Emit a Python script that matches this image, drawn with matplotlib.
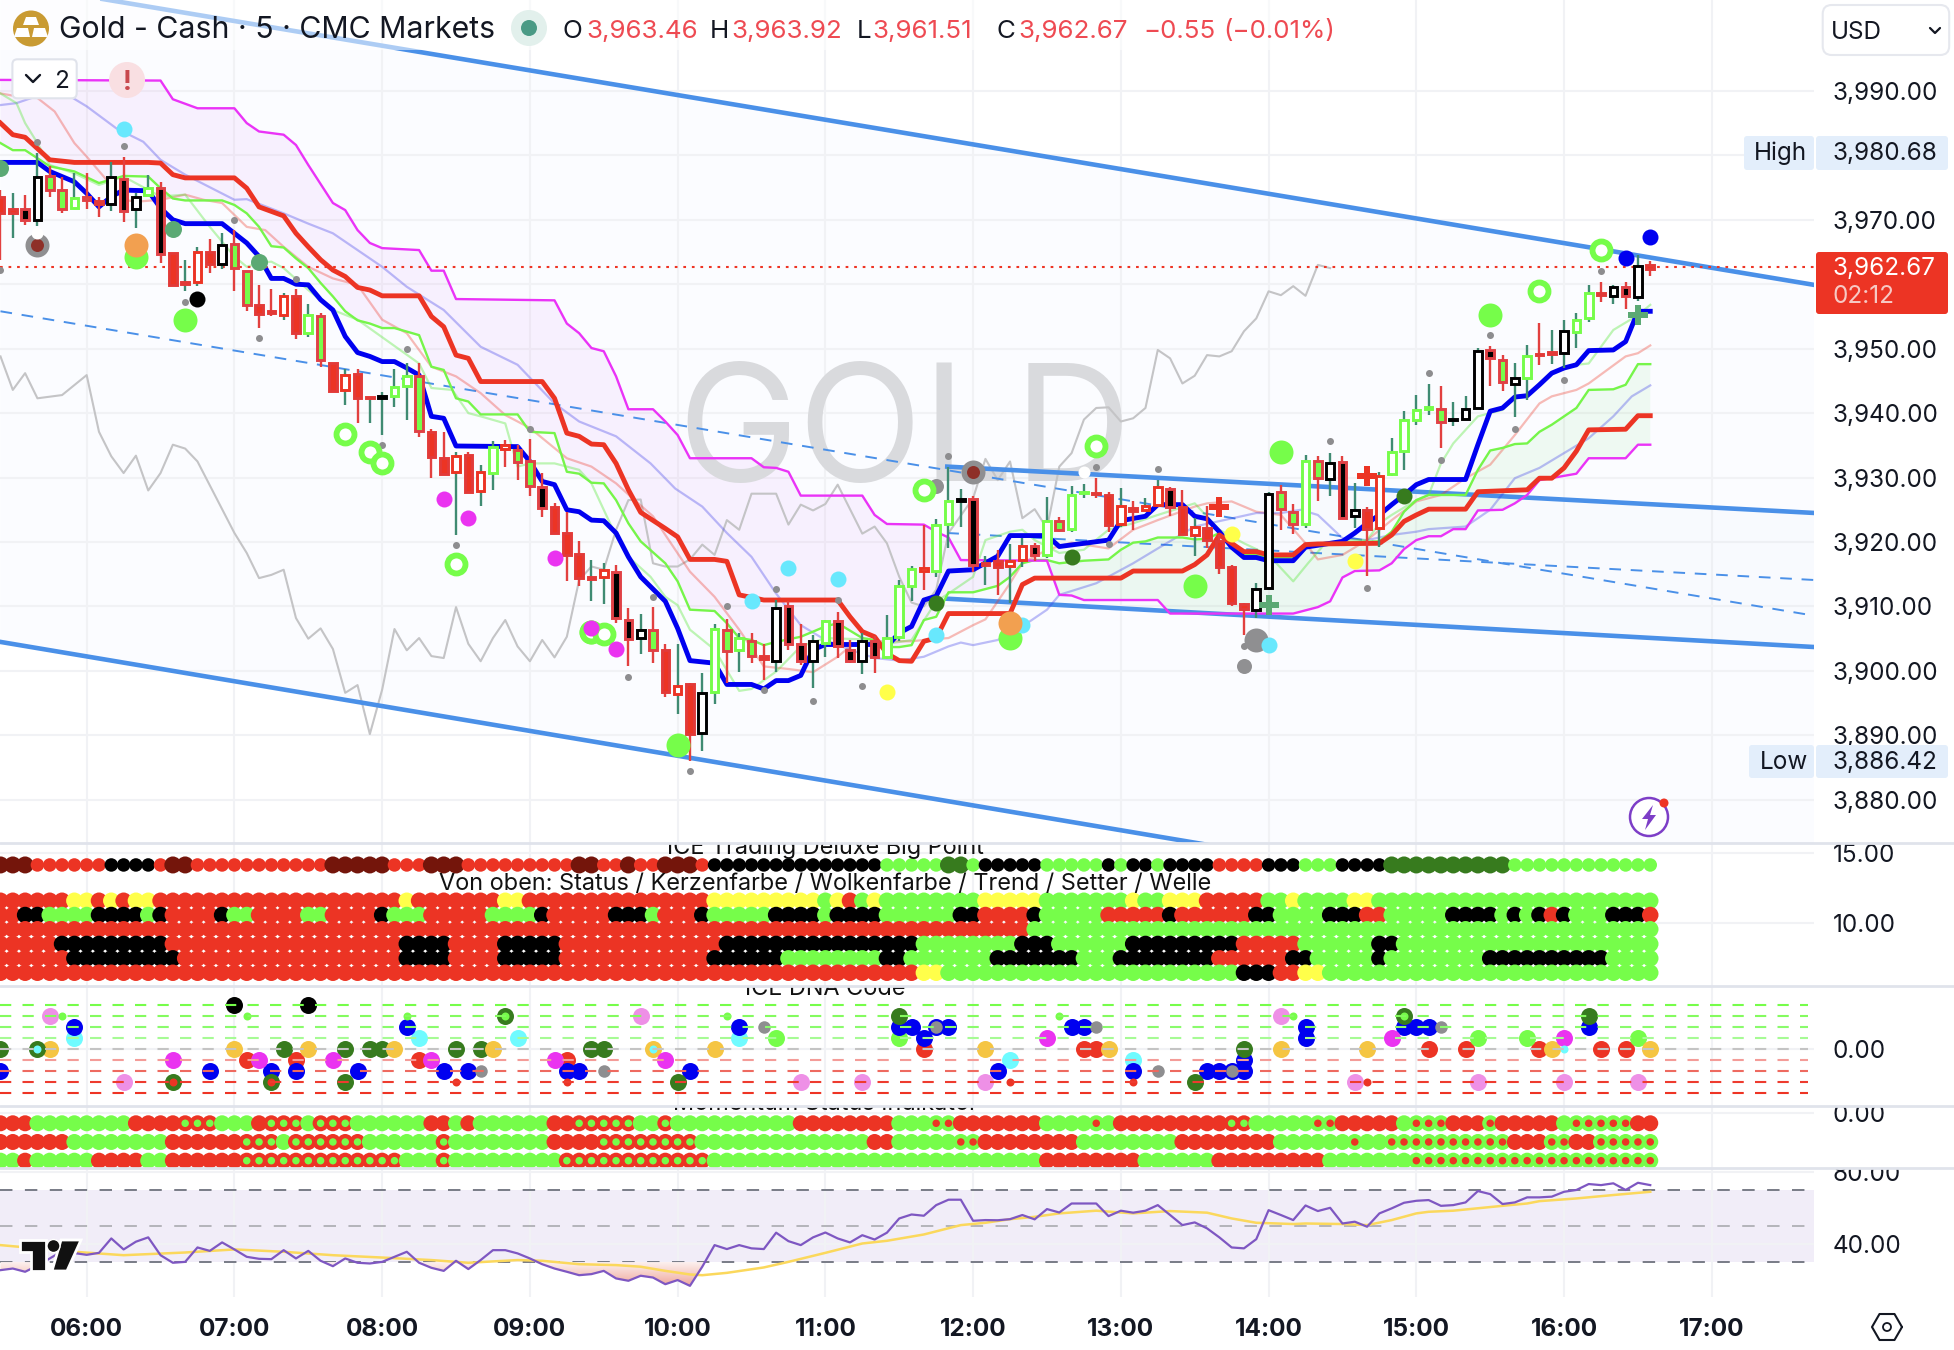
#!/usr/bin/env python3
import re
import numpy as np
import matplotlib
matplotlib.use('Agg')
import matplotlib.pyplot as plt
import matplotlib.ticker as ticker
from matplotlib.colors import LinearSegmentedColormap
from matplotlib.lines import Line2D
from matplotlib.patches import Rectangle, Circle, Polygon, FancyBboxPatch
from matplotlib.path import Path
from matplotlib.transforms import Affine2D, Bbox

plt.rcParams['font.family'] = ['Inter', 'DejaVu Sans']

W, H = 1954, 1350
PLOT_R = 1814
BAR_PX = 12.31

INK = '#131722'
RED = '#ec3424'
GREEN = '#76fd4a'
DKGREEN = '#377b1e'
SEA = '#5ba974'
BLUE = '#0000f0'
CHAN = '#4a90e8'

# ---- candles, one entry per 5 minute bar, 05:25 to 16:35
body_hi = [3973.6,3971.6,3971.6,3976.7,3976.8,3974.6,3973.4,3973.6,3972.9,3976.7,
           3976.4,3973.5,3974.9,3975.0,3964.9,3960.4,3965.0,3965.0,3966.1,3966.2,
           3962.1,3956.7,3955.8,3958.2,3958.2,3955.2,3955.1,3947.8,3945.9,3946.0,
           3942.5,3942.7,3944.1,3945.8,3945.8,3937.0,3933.0,3933.3,3933.5,3930.9,
           3934.8,3935.0,3934.3,3932.5,3928.6,3925.4,3921.4,3918.1,3914.6,3915.6,
           3915.4,3907.9,3906.4,3906.4,3903.3,3897.7,3898.0,3896.6,3906.5,3906.3,
           3905.1,3904.7,3902.3,3909.8,3910.0,3904.2,3904.7,3907.8,3907.8,3903.3,
           3904.7,3904.7,3905.1,3913.2,3915.8,3915.9,3922.7,3926.4,3926.6,3926.7,
           3916.8,3917.0,3917.1,3919.4,3919.4,3923.3,3923.3,3927.3,3927.8,3927.6,
           3927.3,3925.6,3925.3,3925.6,3928.6,3928.3,3925.5,3922.4,3922.2,3920.2,
           3916.1,3910.4,3912.7,3927.5,3927.8,3924.6,3932.6,3932.5,3932.2,3932.4,
           3924.9,3925.0,3930.3,3933.9,3938.9,3940.5,3940.9,3940.7,3939.1,3940.7,
           3949.7,3949.8,3948.3,3945.5,3948.9,3949.2,3949.5,3952.7,3954.5,3958.7,
           3958.7,3959.6,3959.6,3962.9,3963.0]
body_lo = [3971.0,3971.1,3969.9,3970.0,3974.6,3971.6,3971.8,3973.1,3972.5,3972.5,
           3971.4,3971.6,3973.9,3964.7,3959.9,3960.1,3960.3,3963.1,3963.2,3962.5,
           3956.8,3955.4,3955.5,3955.2,3952.5,3952.5,3948.2,3943.5,3943.6,3942.3,
           3942.3,3942.3,3942.7,3944.2,3937.3,3933.2,3930.5,3930.8,3927.8,3927.9,
           3930.7,3934.4,3932.4,3928.7,3925.3,3921.4,3918.0,3914.4,3914.3,3914.5,
           3908.2,3905.0,3905.1,3903.3,3896.8,3896.4,3890.2,3890.3,3896.7,3903.1,
           3903.2,3902.3,3901.9,3901.5,3904.2,3901.5,3901.5,3904.4,3903.9,3901.6,
           3901.5,3902.2,3902.2,3905.3,3913.2,3915.5,3915.5,3922.8,3926.4,3916.5,
           3916.5,3916.1,3916.3,3917.2,3918.0,3918.0,3921.9,3922.0,3927.6,3927.4,
           3922.7,3922.8,3924.8,3925.0,3925.8,3925.5,3921.3,3921.1,3920.3,3916.1,
           3910.5,3909.6,3909.5,3912.9,3925.2,3922.8,3922.8,3929.9,3929.8,3923.8,
           3924.0,3922.0,3922.1,3930.6,3934.2,3939.0,3940.7,3938.7,3938.9,3939.1,
           3940.8,3948.6,3944.8,3944.5,3945.4,3949.0,3949.1,3949.4,3952.6,3954.7,
           3958.4,3958.2,3958.1,3958.0,3962.3]
wick_hi = [3974.6,3974.1,3973.9,3980.3,3978.3,3976.7,3977.3,3977.2,3973.6,3979.0,
           3979.8,3974.1,3977.0,3975.8,3964.9,3963.8,3965.7,3967.0,3967.9,3968.4,
           3962.1,3959.9,3959.2,3958.7,3959.2,3956.9,3955.6,3947.8,3946.8,3946.8,
           3942.5,3943.3,3946.8,3947.7,3947.7,3937.5,3937.0,3934.0,3934.0,3932.0,
           3935.6,3935.8,3935.1,3936.0,3930.7,3926.0,3924.7,3920.1,3917.2,3916.7,
           3916.5,3909.7,3908.8,3909.9,3904.2,3904.2,3898.2,3899.6,3907.3,3908.0,
           3905.9,3905.9,3904.2,3911.0,3910.8,3907.3,3905.6,3907.9,3909.2,3904.8,
           3905.9,3905.4,3908.7,3914.1,3916.3,3922.7,3923.6,3931.7,3928.2,3927.1,
           3917.9,3918.8,3919.7,3920.6,3919.9,3927.0,3923.9,3928.7,3929.0,3929.9,
           3927.8,3928.4,3926.3,3926.8,3929.6,3928.6,3928.1,3923.7,3925.6,3921.1,
           3916.5,3910.6,3913.6,3927.8,3928.8,3925.9,3933.5,3933.4,3933.8,3933.3,
           3929.2,3925.4,3930.8,3936.1,3940.4,3942.8,3944.5,3944.2,3941.8,3942.6,
           3950.1,3950.4,3949.0,3947.8,3950.6,3954.0,3952.9,3954.5,3955.5,3959.9,
           3960.4,3959.9,3960.4,3964.6,3963.6]
wick_lo = [3963.8,3967.1,3969.2,3969.1,3973.6,3971.0,3971.8,3971.6,3970.4,3971.3,
           3969.6,3968.7,3973.9,3963.3,3959.9,3958.9,3959.7,3961.7,3962.3,3958.9,
           3955.8,3953.2,3955.0,3954.4,3951.5,3951.8,3947.1,3943.5,3941.3,3938.4,
           3938.4,3936.6,3941.0,3939.0,3936.3,3930.0,3930.5,3921.1,3927.8,3925.6,
           3928.1,3931.7,3929.7,3927.2,3923.9,3921.4,3913.9,3913.2,3910.8,3910.4,
           3907.5,3900.8,3902.7,3901.2,3896.0,3893.3,3886.1,3887.6,3894.9,3898.1,
           3899.9,3901.2,3898.6,3899.9,3903.2,3900.9,3897.3,3902.1,3902.0,3901.2,
           3899.5,3899.7,3901.9,3904.6,3910.8,3912.5,3914.6,3919.0,3922.4,3915.4,
           3913.3,3911.8,3910.5,3916.2,3917.0,3917.5,3921.6,3921.6,3926.8,3926.8,
           3921.5,3922.4,3921.9,3924.9,3925.5,3924.1,3921.1,3917.9,3919.0,3915.1,
           3910.0,3905.6,3908.2,3912.5,3921.9,3921.3,3922.1,3926.3,3927.1,3923.7,
           3922.1,3914.7,3919.3,3930.2,3931.2,3938.2,3939.7,3934.6,3938.0,3938.9,
           3940.6,3944.2,3943.5,3939.4,3942.1,3947.5,3947.6,3947.0,3950.1,3954.1,
           3957.2,3957.0,3956.2,3957.4,3961.3]
# R solid red, K red/black, G red/green, W red/white, B black/white, L green/white
candle_kind = ''.join(['RRKBGGLGRB','KBLKRRWRBG','GRRWRLGRWR','RBLLGRRWRW','LWGGKRRRRW',
                       'KKBGRWRBLG','LGRBKKBLKK','BKLLLWLLBK','RRWWKLGLLR','RWRWWKRWRR',
                       'RRBBGGLGBK','BRWLLLLGBB','BKGBLRRBLL','RBKBR'])
teal_doji = [1, 15, 30, 48, 80, 126]
red_wick_hollow = [41, 75]

last_price = 3962.67

# ---- overlay lines, vertices (bar, price)
tenkan_x = [0,3,4,6,7,8,9,10,12,13,14,15,18,19,20,21,22,23,24,25,26,27,28,29,30,31,32,33,34,35,36,37,42,43,44,45,46,47,48,49,50,51,52,54,55,56,58,59,61,62,63,64,65,66,67,71,72,73,74,75,76,77,79,81,82,85,86,90,91,93,94,96,97,98,99,100,101,102,103,105,106,108,109,110,111,112,113,114,115,116,119,120,121,122,123,124,125,126,127,128,129,131,132,133,134]
tenkan_y = [3978.9,3978.9,3977.5,3975.9,3974.1,3972.0,3973.6,3974.6,3974.5,3971.8,3970.0,3969.4,3969.4,3967.9,3966.4,3964.3,3960.9,3960.9,3960.0,3959.9,3957.6,3956.0,3951.9,3949.4,3948.8,3948.0,3948.0,3947.0,3945.9,3939.5,3939.2,3934.9,3934.8,3932.5,3929.4,3928.9,3925.0,3924.7,3923.4,3923.3,3921.4,3917.7,3914.6,3910.8,3906.6,3901.6,3901.2,3897.9,3897.9,3897.2,3898.5,3898.5,3899.3,3903.3,3904.1,3904.1,3903.8,3905.9,3906.9,3911.0,3911.6,3915.5,3915.7,3917.8,3921.0,3921.0,3919.3,3920.3,3923.3,3924.0,3925.8,3925.8,3924.0,3923.6,3921.6,3919.2,3917.6,3917.6,3917.1,3917.1,3919.2,3919.8,3920.1,3921.4,3922.9,3924.2,3925.8,3927.3,3928.9,3929.7,3929.7,3935.1,3940.3,3940.8,3942.5,3942.7,3944.4,3946.2,3947.0,3947.5,3949.7,3949.8,3951.1,3955.8,3955.8]
kijun_x = [0,1,2,4,6,12,13,14,15,19,20,21,23,24,25,26,27,28,29,30,31,34,35,36,37,38,39,44,45,46,47,48,49,50,51,52,54,55,56,58,59,60,62,68,69,70,71,72,73,74,75,76,77,82,83,84,91,92,96,97,98,99,100,101,102,103,105,106,107,112,113,114,115,116,119,120,124,125,126,127,128,129,132,133,134]
kijun_y = [3985.0,3983.2,3982.8,3979.3,3978.9,3978.9,3978.8,3977.0,3976.5,3976.5,3974.9,3972.0,3970.6,3967.9,3965.8,3963.8,3962.2,3961.2,3959.5,3959.1,3958.2,3958.2,3955.0,3953.4,3949.0,3948.5,3944.9,3944.9,3942.3,3936.9,3936.4,3935.2,3935.1,3932.2,3928.1,3924.6,3922.1,3920.8,3917.3,3917.3,3917.0,3911.8,3911.0,3911.0,3908.4,3906.1,3905.3,3902.7,3901.6,3901.5,3904.6,3905.1,3908.9,3908.9,3913.4,3914.4,3914.4,3915.5,3915.5,3916.5,3918.0,3921.1,3919.8,3918.5,3918.5,3918.0,3918.0,3919.6,3919.7,3919.8,3921.1,3923.2,3924.2,3925.1,3925.1,3927.8,3928.1,3929.9,3929.9,3931.5,3934.1,3937.4,3937.5,3939.6,3939.6]
span_a_x = [0,1,2,4,6,8,10,12,13,14,15,18,19,20,21,22,23,24,25,26,27,28,29,30,31,32,34,35,36,37,38,39,42,43,45,46,47,48,49,50,51,52,54,55,56,58,59,60,61,62,63,65,67,68,70,71,72,73,74,75,76,77,79,81,82,83,84,85,86,88,90,91,92,93,94,96,97,98,99,100,101,102,103,105,106,107,112,113,114,115,116,119,120,121,122,123,124,125,126,128,129,131,132,133,134]
span_a_y = [3981.9,3980.8,3980.8,3978.3,3977.5,3975.7,3976.8,3976.7,3974.9,3973.3,3973.0,3973.0,3972.3,3971.0,3968.9,3965.9,3965.7,3964.0,3962.5,3960.2,3958.1,3955.8,3954.4,3953.9,3953.2,3953.2,3952.1,3947.2,3946.7,3942.3,3941.8,3939.8,3939.8,3937.1,3936.9,3930.9,3930.6,3929.2,3929.1,3926.5,3922.9,3920.1,3916.7,3913.9,3909.5,3909.3,3907.4,3905.1,3904.8,3904.0,3904.5,3905.3,3906.9,3907.4,3905.1,3904.8,3903.7,3903.7,3904.0,3907.9,3908.4,3912.2,3912.2,3913.2,3914.6,3916.7,3917.2,3917.2,3916.7,3917.1,3917.3,3918.8,3919.9,3920.1,3920.7,3920.7,3920.4,3920.5,3921.4,3920.1,3918.0,3918.0,3917.6,3917.6,3919.3,3919.8,3920.1,3921.6,3924.7,3926.5,3927.3,3927.3,3931.2,3934.2,3934.6,3935.2,3935.3,3937.1,3938.2,3940.8,3943.6,3943.7,3944.4,3947.6,3947.6]
span_b_x = [0,13,14,16,19,20,21,23,24,25,27,28,29,30,31,34,35,36,37,45,46,47,48,49,50,51,53,54,55,56,61,62,63,64,65,70,71,72,75,76,77,78,85,86,87,88,94,95,105,107,108,109,110,112,113,114,115,116,117,118,119,120,122,123,124,125,128,129,132,133,134]
span_b_y = [3991.7,3991.6,3988.7,3987.3,3987.3,3985.0,3983.7,3983.2,3981.6,3978.5,3972.6,3971.5,3968.4,3966.4,3965.6,3965.3,3962.1,3962.1,3957.7,3957.5,3953.9,3952.4,3950.1,3949.6,3945.7,3940.6,3940.6,3938.7,3936.6,3933.0,3933.0,3931.6,3931.5,3930.9,3927.2,3927.2,3924.2,3922.8,3922.7,3921.6,3920.7,3917.2,3917.1,3911.8,3911.7,3911.0,3911.0,3908.9,3908.9,3909.9,3910.8,3914.5,3915.5,3915.6,3916.7,3918.9,3920.3,3920.9,3920.9,3922.0,3922.0,3924.9,3925.0,3926.0,3927.3,3929.6,3930.6,3933.0,3933.0,3935.1,3935.1]
pale_red_x = [0,1.5,3,4.4,6,7,10,11,13,15,16.5,18,20,21.5,23,25,27,29,31,33,35,37,39,41,43,46,48,50,51.5,53,54,56,58,60,62,64,66,68,69,71,74,75,77,79,80,82,83,85,87,90,92,94,97,98,100,102,104,106,107,109,111,113,115,117,119,121,123,125,126,128,129,132,133,134]
pale_red_y = [3989.6,3989.1,3988.9,3986.8,3981.9,3979.8,3973.1,3972.8,3973.1,3973.9,3973.1,3972.6,3968.9,3968.4,3965.8,3962.7,3960.9,3959.9,3954.5,3952.4,3947.2,3945.7,3943.1,3939.7,3937.7,3933.0,3931.7,3929.1,3926.5,3924.0,3921.1,3915.4,3911.5,3906.4,3900.7,3900.3,3899.8,3902.2,3903.8,3904.6,3904.6,3904.8,3905.1,3907.1,3908.0,3913.6,3916.7,3918.8,3919.9,3919.0,3921.9,3923.4,3925.5,3926.0,3926.3,3924.7,3924.2,3919.8,3917.3,3918.0,3920.3,3923.4,3926.3,3927.3,3929.9,3932.0,3936.6,3941.5,3942.6,3943.6,3944.6,3948.8,3949.3,3950.5]
lavender_x = [0,1.3,3.3,5.7,7,9.4,11.6,13,15,19,20,23,25,27,29,31,33,36,39,42,45,47,50,52.8,54.8,57,59,61,63,65,67,69,71,73,75,77,78,79,81,83,85,86,89,92,94,97,102,104,105.6,107,109,111,113,115,116,119,121,123,125,127,129,131,132.5,134]
lavender_y = [3987.8,3988.1,3989.4,3989.1,3987.6,3984.2,3982.1,3979.3,3977.0,3973.1,3973.2,3971.0,3969.4,3967.9,3965.3,3962.7,3959.6,3956.0,3950.3,3947.5,3941.5,3938.7,3936.4,3932.2,3928.3,3925.5,3921.4,3917.7,3912.0,3907.1,3904.8,3903.3,3902.0,3901.6,3902.2,3903.8,3904.4,3904.0,3904.8,3906.9,3909.5,3911.8,3913.6,3916.7,3919.0,3922.4,3924.5,3924.5,3925.0,3924.2,3920.6,3920.3,3921.1,3921.6,3922.0,3922.4,3925.0,3929.9,3931.5,3933.8,3936.1,3939.5,3942.6,3944.3]
pale_green_x = [0,1.3,2,3,4,6,8,10,13,15,17,19,20,21,22,23,25,27,29,34,35,36.7,38,39,41,42,43,45,47,48,50,51,52.8,54,55,56,58,60,61,63,65,67,70,72,74,76,77,79,80,82,83,84,86,88,90,92,94,97,99,101,103,105,106.2,107.6,109,111,112,113,115,116,117,118,119,120,122,123,124,125,126,128,129,131,133,134]
pale_green_y = [3989.6,3988.1,3985.0,3981.9,3978.5,3977.2,3975.4,3976.7,3973.6,3973.9,3968.9,3964.3,3962.7,3963.3,3963.5,3962.5,3959.1,3956.0,3954.5,3947.7,3943.9,3943.6,3940.0,3939.5,3938.4,3931.7,3932.2,3932.2,3931.2,3929.1,3920.9,3917.7,3914.6,3911.5,3910.2,3906.4,3903.3,3896.9,3897.2,3899.9,3903.8,3905.1,3904.9,3904.2,3904.8,3910.8,3912.0,3914.6,3920.3,3921.6,3921.9,3920.3,3918.3,3918.8,3921.9,3922.9,3924.2,3926.0,3921.9,3919.8,3918.0,3913.9,3916.7,3919.8,3920.3,3920.3,3922.9,3924.2,3926.5,3927.3,3932.2,3935.3,3937.4,3939.5,3940.5,3942.3,3942.6,3944.6,3946.2,3947.5,3947.7,3952.9,3955.2,3956.8]
lag_x = [0,1,2,3,5,7,8,9,10,11,12,13,14,15,16,19,20,21,22,23,24,25,26,27,28,29,30,31,32,33,34,35,36,37,38,39,40,41,42,43,44,45,46,47,48,49,50,51,52,53,54,55,56,57,58,59,60,61,63,64,65,66,67,68,70,71,72,73,74,75,76,77,79,80,81,82,83,84,85,86,87,88,89,90,91,92,93,94,95,96,97,98,99,100,101,102,103,104,105,106,107,108]
lag_y = [3948.8,3943.6,3946.2,3942.3,3942.8,3945.9,3937.1,3933.3,3930.7,3933.4,3928.0,3930.7,3935.1,3934.5,3932.5,3921.4,3918.3,3914.4,3914.9,3915.7,3908.2,3905.0,3906.6,3903.4,3896.6,3897.8,3890.2,3897.1,3906.5,3903.2,3905.1,3902.3,3902.0,3909.9,3904.2,3901.5,3905.1,3907.9,3903.8,3901.5,3904.8,3902.1,3905.3,3914.1,3916.2,3915.7,3921.9,3926.5,3926.6,3916.7,3916.2,3916.2,3917.3,3919.6,3918.0,3923.4,3921.9,3927.5,3927.5,3922.7,3925.8,3924.9,3925.9,3928.9,3921.3,3922.4,3919.8,3914.6,3910.6,3910.0,3912.6,3921.4,3926.8,3932.9,3929.6,3932.5,3923.7,3925.1,3922.1,3931.7,3933.8,3939.0,3940.8,3940.9,3938.7,3939.2,3940.8,3949.8,3948.5,3944.6,3945.8,3949.0,3948.8,3949.6,3952.7,3954.7,3958.9,3958.3,3959.7,3958.2,3963.0,3962.5]

# ---- channels (bar, price)
chan1_x = [0, 147.3]
chan1_top = [4006.9, 3959.9]
chan1_bot = [3904.5, 3857.2]
chan1_mid_x = [0, 146.6]
chan1_mid = [3955.8, 3908.8]
chan2_x = [76.9, 147.4]
chan2_top = [3931.7, 3924.5]
chan2_mid = [3921.4, 3914.1]
chan2_bot = [3911.2, 3903.7]

# ---- chart signals (bar, price)
gray_small = [(3,3982.0),(10,3981.4),(0,3962.2),(15,3957.3),(19,3970.0),(21,3951.7),(24,3960.8),(33,3950.0),(31,3935.1),(43,3937.5),(37,3919.6),(51,3899.1),(53,3911.5),(59,3910.0),(63,3912.7),(68,3911.0),(62,3897.0),(66,3895.4),(70,3897.7),(56,3884.4),(77,3933.4),(82,3908.7),(89,3931.6),(94,3931.3),(90,3919.7),(101,3903.9),(108,3935.6),(117,3932.7),(116,3946.3),(123,3937.6),(121,3952.1),(127,3945.2),(130,3962.1),(111,3912.8)]
gray_mid = [(76,3928.7),(101,3900.8)]
gray_big = [(3,3966.1),(79,3930.9),(102,3904.8)]
darkred_center = [(3,3966.1),(79,3930.9)]
white_dots = [(3,3968.0),(88,3930.9)]
green_big = [(11,3964.3),(15,3954.5),(55,3888.5),(82,3905.1),(97,3913.2),(104,3933.9),(121,3955.2),(48,3906.1)]
orange_big = [(11,3966.1),(82,3907.5)]
green_rings = [(28,3936.8),(30,3934.0),(31,3932.2),(37,3916.6),(48,3906.1),(49,3905.8),(75,3928.0),(89,3934.9),(125,3959.0),(130,3965.3)]
cyan_dots = [(10,3984.1),(61,3910.9),(64,3916.0),(68,3914.3),(76,3905.6),(83,3907.2),(103,3904.0)]
magenta_dots = [(36,3926.7),(38,3923.8),(45,3917.5),(48,3906.6),(50,3903.4)]
sea_dots = [(0,3978.0),(14,3968.6),(21,3963.5)]
dkgreen_dots = [(76,3910.5),(87,3917.7),(114,3927.1)]
black_dots = [(16,3957.7)]
yellow_dots = [(72,3896.7),(100,3921.3),(110,3917.1)]
blue_dots = [(132,3964.0),(134,3967.4)]
red_plus = [(99,3925.4),(111,3930.2)]
sea_plus = [(103,3910.2),(133,3955.2)]

# ---- ICE Deluxe rows, run lengths per bar
deluxe_top = 'D3 r6 k4 r1 D2 r11 D5 r3 D3 r9 D2 r2 D1 r2 D3 r1 k14 g5 G2 g1 k5 g5 k1 g1 k2 g1 k4 r4 k3 g3 k4 G10 g12'
deluxe_rows = ['r6 y2 r1 y1 r1 y2 r20 y1 r7 y2 r11 r4 y9 g1 y1 r1 g1 y1 g8 y5 g7 y1 g2 y3 r5 g2 y1 g4 y2 g23',
               'r2 k2 g4 k4 g1 k1 r4 k1 g2 r4 g2 r4 k1 g3 r5 g4 k1 r5 k3 g1 r3 k1 g5 k4 g1 k4 g6 k2 r4 k1 g5 r5 k1 r6 k2 g4 k3 r2 g5 k4 g1 k1 g1 k1 r1 k1 g3 k3 r1',
               'r84 g51',
               'r5 k9 r19 k4 r4 k5 r13 k16 g8 k3 g6 k9 r5 g6 k2 g21',
               'r6 k9 r18 k4 r4 k5 r12 k6 g8 k2 g7 k7 g3 k8 r6 k2 g5 k1 g8 k10 g4',
               'r75 y2 g24 k3 r2 y2 g27']
deluxe_top_y = 14.13
deluxe_row_y = [11.57, 10.55, 9.53, 8.48, 7.45, 6.42]

# ---- DNA pane (bar, level)
dna_levels = [4, 3, 2, 1, 0, -1, -2, -3, -4]
dna_level_colors = ['#76fd4a','#84fb5e','#8afb6c','#a6fb94','#c4c4c4','#f49c98','#ee6a60','#ee3b2e','#ee3424']
dna_blue = [(0,-2),(6,2),(17,-2),(22,-2),(24,-2),(29,-2),(33,2),(36,-2),(38,-2),(46,-2),(47,-2),(56,-2),(60,2),(73,2),(74,2),(75,1),(76,2),(77,2),(81,-2),(87,2),(88,2),(92,-2),(98,-2),(99,-2),(100,-2),(101,-1),(101,-2),(106,2),(106,1),(114,2),(115,2),(116,2),(129,2)]
dna_dkgreen = [(0,0),(23,0),(28,0),(28,-3),(30,0),(31,0),(37,0),(39,0),(48,0),(49,0),(55,-3),(73,3),(97,-3),(101,0),(129,3)]
dna_green = [(63,1),(73,1),(120,1),(124,1),(133,1)]
dna_orange = [(4,0),(19,0),(25,0),(32,0),(40,0),(53,0),(58,0),(80,0),(90,0),(104,0),(111,0),(126,0),(134,0)]
dna_pink = [(4,3),(10,-3),(52,3),(65,-3),(70,-3),(80,-3),(104,3),(110,-3),(120,-3),(127,-3),(133,-3)]
dna_magenta = [(14,-1),(21,-1),(27,-1),(35,-1),(45,-1),(54,-1),(85,1),(113,1),(127,1)]
dna_cyan = [(6,1),(34,1),(42,1),(60,1),(82,-1),(92,-1)]
dna_red = [(20,-1),(24,-1),(34,-1),(46,-1),(75,0),(88,0),(89,0),(116,0),(119,0),(125,0),(130,0),(132,0)]
dna_black = [(19,4),(25,4)]
dna_gray = [(39,-2),(49,-2),(62,2),(76,2),(89,2),(94,-2),(100,-2),(117,2)]
dna_ring_green = [(41,3),(114,3)]
dna_ring_red = [(14,-3),(22,-3)]
dna_ring_cyan = [(3,0)]
dna_small_green = [(5,3),(20,3),(33,3),(41,3),(59,3),(86,3),(105,3),(114,3)]
dna_small_red = [(14,-3),(22,-3),(37,-3),(46,-3),(82,-3),(92,-3),(111,-3)]
dna_small_cyan = [(3,0),(53,0),(127,0)]

# ---- Momentum rows
momentum_rows = ['r3 g8 r4 a3 g3 r1 a3 g1 a3 g6 r2 g1 r1 g6 r2 a5 g2 a1 g10 r8 g3 b2 r7 g4 b1 g1 r9 a2 g5 b2 r5 g1 b3 r3 b1 r5 g1 b5 r2',
                 'r6 g8 r6 a3 g1 a6 g6 a1 g8 r4 a5 a3 g14 r2 g5 b2 r8 g8 r8 g6 b1 g2 b10 r3 b2 r2 b5',
                 'g2 r1 g5 r4 g2 r6 a13 g3 a1 g9 a8 a4 g27 r8 g6 r9 g7 b20']
momentum_y = [-0.55, -1.55, -2.55]

# ---- RSI
rsi = [25.5,26.4,24.6,28.0,32.0,36.0,35.0,34.0,35.1,43.1,37.0,41.3,43.7,33.8,29.6,30.1,38.1,36.2,40.9,37.0,
       32.9,31.8,31.6,36.6,32.0,36.2,30.7,27.7,32.0,29.6,29.2,30.1,32.9,35.7,29.6,26.8,25.1,30.7,26.1,31.1,
       36.6,36.6,34.8,32.0,28.8,26.4,24.6,22.7,23.3,25.1,20.9,19.6,22.4,21.4,17.7,20.0,16.8,27.4,39.4,37.2,
       39.4,37.6,37.2,46.3,41.6,39.4,43.7,46.4,43.1,40.9,44.9,42.5,46.3,54.2,56.4,55.7,61.6,64.6,64.6,52.9,
       53.3,53.2,53.8,56.1,53.7,59.4,57.5,62.5,62.5,62.5,55.5,58.5,57.4,58.5,61.6,56.1,50.5,52.0,48.7,43.7,
       38.1,37.6,42.7,58.8,56.1,53.3,61.4,58.3,60.1,51.4,52.4,49.6,57.0,59.8,62.9,64.0,64.4,61.2,61.6,63.1,
       69.4,67.7,62.2,63.1,65.9,65.9,66.3,69.0,70.0,73.3,72.7,73.7,70.0,74.0,72.7]
rsi_ma_x = [0,6,10,15,19,23,27,31,35,38,42,44,47,50,52,54,56,57,59,62,64,67,70,72,75,78,80,82,84,86,89,92,95,98,100,102,105,106,109,111,113,115,116,118,122,124,125,128,131,134]
rsi_ma = [39.4,35.7,33.8,35.3,37.0,35.7,33.8,32.5,31.1,29.6,31.1,30.7,28.8,28.3,27.4,25.1,23.1,22.7,24.0,27.0,30.1,35.1,40.3,41.8,45.3,50.5,51.8,53.8,55.1,57.0,58.5,57.0,58.3,57.4,54.2,51.8,51.1,51.4,51.1,50.5,53.3,57.0,57.9,58.5,61.2,62.5,63.8,65.3,67.2,69.0]

hour_bars = list(range(7, 7 + 12 * 12, 12))
hour_labels = [f'{h:02d}:00' for h in range(6, 18)]

# labels that sit under a price tag in the reference
hidden_ticks = [3960, 3980]


def runs(spec):
    out = []
    for code, n in re.findall(r'([A-Za-z])(\d+)', spec):
        out += [code] * int(n)
    return out


def px2(d):
    # marker size from a diameter in pixels
    return (d * 0.72) ** 2


def dots(ax, pts, color, d, z=6, **kw):
    ax.scatter([p[0] for p in pts], [p[1] for p in pts], s=px2(d), c=color, linewidths=0, zorder=z, **kw)


def fmt_price(v, _):
    return '' if round(v) in hidden_ticks else f'{v:,.2f}'


fig = plt.figure(figsize=(W / 100, H / 100), dpi=100, facecolor='white')
px = Affine2D().scale(1, -1).translate(0, H)


def make_pane(top, bottom, ylim, yticks):
    ax = fig.add_axes([0, 1 - bottom / H, PLOT_R / W, (bottom - top) / H])
    ax.set_xlim(-0.04, 147.3)
    ax.set_ylim(*ylim)
    for s in ax.spines.values():
        s.set_visible(False)
    ax.yaxis.tick_right()
    ax.set_yticks(yticks)
    ax.set_xticks(hour_bars)
    ax.set_xticklabels([])
    ax.tick_params(length=0, pad=13.5, labelsize=17.5, labelcolor=INK)
    ax.yaxis.set_major_formatter(ticker.FuncFormatter(fmt_price))
    ax.grid(True, color='#f1f2f5', lw=1.5, zorder=0)
    ax.set_axisbelow(True)
    clip = Bbox.from_extents(PLOT_R, H - bottom, W, H - top)
    for t in ax.get_yticklabels():
        t.set_clip_box(clip)
        t.set_clip_on(True)
    return ax


# ======== price pane
ax = make_pane(0, 843, (3873.3, 4004.1), list(range(3880, 4000, 10)))

ax.fill(chan1_x + chan1_x[::-1], chan1_top + chan1_bot[::-1], color='#fbfcff', lw=0, zorder=0.5)
ax.fill(chan2_x + chan2_x[::-1], chan2_top + chan2_bot[::-1], color='#4a90e8', alpha=0.015, lw=0, zorder=0.6)

# cloud, violet while span B is on top, green once span A is
a_x, a_y, b_x, b_y = map(np.array, (span_a_x, span_a_y, span_b_x, span_b_y))
ax.fill(np.r_[b_x[b_x <= 85], a_x[a_x <= 85][::-1]], np.r_[b_y[b_x <= 85], a_y[a_x <= 85][::-1]],
        color='#c040f0', alpha=0.06, lw=0, zorder=0.7)
ax.fill(np.r_[a_x[a_x >= 85], b_x[b_x >= 85][::-1]], np.r_[a_y[a_x >= 85], b_y[b_x >= 85][::-1]],
        color='#49d24a', alpha=0.07, lw=0, zorder=0.7)

ax.text(905, 481, 'GOLD', transform=px, ha='center', va='baseline', fontsize=117, color='#d9dadd',
        fontweight='normal', zorder=0.8, clip_on=False)

ax.plot(lag_x, lag_y, color='#c4c4c6', lw=1.5, zorder=1)
ax.plot(chan1_mid_x, chan1_mid, color=CHAN, lw=1.4, ls=(0, (6, 5)), zorder=2)
ax.plot(chan2_x, chan2_mid, color=CHAN, lw=1.4, ls=(0, (6, 5)), zorder=2)
ax.plot(chan1_x, chan1_top, color=CHAN, lw=3.3, zorder=2)
ax.plot(chan1_x, chan1_bot, color=CHAN, lw=3.3, zorder=2)
ax.plot(chan2_x, chan2_top, color=CHAN, lw=3.3, zorder=2)
ax.plot(chan2_x, chan2_bot, color=CHAN, lw=3.3, zorder=2)

ax.plot(pale_red_x, pale_red_y, color='#ec3424', alpha=0.33, lw=1.6, zorder=3)
ax.plot(lavender_x, lavender_y, color='#3a3ae8', alpha=0.33, lw=1.6, zorder=3)
ax.plot(pale_green_x, pale_green_y, color='#58e83a', alpha=0.38, lw=1.6, zorder=3)
ax.plot(span_a_x, span_a_y, color='#76f54a', lw=1.7, zorder=3)
ax.plot(span_b_x, span_b_y, color='#ea33f7', lw=1.7, zorder=3)
ax.plot(tenkan_x, tenkan_y, color=BLUE, lw=3.5, solid_joinstyle='round', zorder=3.2)
ax.plot(kijun_x, kijun_y, color=RED, lw=3.5, solid_joinstyle='round', zorder=3.2)

ax.axhline(last_price, color='#ee3424', lw=1.5, ls=(0, (1.3, 2.8)), zorder=3.5)

fills = {'R': RED, 'K': 'black', 'G': GREEN, 'W': 'white', 'B': 'white', 'L': 'white'}
edges = {'R': '#e23a38', 'K': '#e04146', 'G': '#e04146', 'W': RED, 'B': 'black', 'L': GREEN}
for i, kind in enumerate(candle_kind):
    teal = (kind in 'WBL' and i not in red_wick_hollow) or i in teal_doji
    ax.vlines(i, wick_lo[i], wick_hi[i], color='#3f8b72' if teal else '#e2403f', lw=1.7, zorder=4)
    ax.bar(i, body_hi[i] - body_lo[i], bottom=body_lo[i], width=0.62, color=fills[kind],
           edgecolor=edges[kind], linewidth=2.1, zorder=5)

dots(ax, gray_small, '#8d8d8f', 7)
dots(ax, gray_mid, '#909092', 15)
dots(ax, gray_big, '#8f8f91', 24)
dots(ax, darkred_center, '#8e2f28', 13, z=6.1)
dots(ax, white_dots, 'white', 12, z=6.1)
dots(ax, green_big, GREEN, 24)
dots(ax, orange_big, '#f2a050', 24, z=6.1)
ax.scatter(*zip(*green_rings), s=px2(18), c='white', edgecolors=GREEN, linewidths=4.2, zorder=6)
dots(ax, cyan_dots, '#68e8fd', 16)
dots(ax, magenta_dots, '#ea33f0', 16, z=6.2)
dots(ax, sea_dots, '#5ba974', 17)
dots(ax, dkgreen_dots, DKGREEN, 16)
dots(ax, black_dots, 'black', 16)
dots(ax, yellow_dots, '#ffff4a', 16)
dots(ax, blue_dots, BLUE, 16)
ax.scatter(*zip(*red_plus), marker='P', s=px2(20), c=RED, linewidths=0, zorder=6)
ax.scatter(*zip(*sea_plus), marker='P', s=px2(20), c=SEA, linewidths=0, zorder=6)

# ======== ICE Trading Deluxe pane
row_colors = {'r': RED, 'k': 'black', 'g': GREEN, 'y': '#ffff4a', 'D': '#74150b', 'G': DKGREEN}
ax1 = make_pane(843, 986, (10 - (986 - 922.7) / 13.98, 10 + (922.7 - 843) / 13.98), [10, 15])
bars = np.arange(135)
top_codes = runs(deluxe_top)
ax1.scatter(bars, [deluxe_top_y] * 135, c=[row_colors[c] for c in top_codes],
            s=[px2(17 if c in 'DG' else 13.5) for c in top_codes], linewidths=0, zorder=3)
for spec, y in zip(deluxe_rows, deluxe_row_y):
    ax1.scatter(bars, [y] * 135, c=[row_colors[c] for c in runs(spec)], s=px2(16.5), linewidths=0, zorder=3)
ax1.text(825, 854, 'ICE Trading Deluxe Big Point', transform=px, ha='center', va='baseline', fontsize=16.9,
         color='#111111', clip_on=True, zorder=4)
ax1.text(825, 890, 'Von oben: Status / Kerzenfarbe / Wolkenfarbe / Trend / Setter / Welle', transform=px,
         ha='center', va='baseline', fontsize=16.9, color='#111111', zorder=4)

# ======== DNA pane
ax2 = make_pane(986, 1106, (-57 / 11.1, 63 / 11.1), [0])
for lvl, col in zip(dna_levels, dna_level_colors):
    ax2.plot([0, 146.8], [lvl, lvl], color=col, lw=1.5, ls=(0, (5.4, 5.4)), zorder=5)
dots(ax2, dna_blue, BLUE, 17, z=3)
dots(ax2, dna_dkgreen, DKGREEN, 17, z=3)
dots(ax2, dna_green, GREEN, 17, z=2.9)
dots(ax2, dna_orange, '#f5c542', 17, z=3)
dots(ax2, dna_pink, '#ee90e6', 17, z=3)
dots(ax2, dna_magenta, '#ea33f0', 17, z=3)
dots(ax2, dna_cyan, '#6ffbff', 17, z=2.9)
dots(ax2, dna_red, RED, 17, z=2.8)
dots(ax2, dna_black, 'black', 17, z=3)
dots(ax2, dna_gray, '#8e8e90', 12.5, z=3.2)
dots(ax2, dna_ring_green + dna_ring_red + dna_ring_cyan, DKGREEN, 17, z=3)
dots(ax2, dna_small_green, GREEN, 8, z=3.3)
dots(ax2, dna_small_red, RED, 8, z=3.3)
dots(ax2, dna_small_cyan, '#6ffbff', 8, z=3.3)
ax2.text(825, 995, 'ICE DNA Code', transform=px, ha='center', va='baseline', fontsize=16.9,
         color='#111111', clip_on=True, zorder=4)

# ======== Momentum pane
ax3 = make_pane(1106, 1168, (-55 / 18.7, 7 / 18.7), [0])
for spec, y in zip(momentum_rows, momentum_y):
    codes = runs(spec)
    outer = [GREEN if c in 'gb' else RED for c in codes]
    ax3.scatter(bars, [y] * 135, c=outer, s=px2(16), linewidths=0, zorder=3)
    ring = [i for i, c in enumerate(codes) if c in 'ab']
    inner = [GREEN if codes[i] == 'a' else RED for i in ring]
    ax3.scatter(ring, [y] * len(ring), c=inner, s=px2(7.5), linewidths=0, zorder=3.1)
ax3.text(825, 1110, 'Momentum Status Indikator', transform=px, ha='center', va='baseline', fontsize=16.9,
         color='#111111', clip_on=True, zorder=4)

# ======== RSI pane
ax4 = make_pane(1168, 1297, (10.6, 82.2), [40, 80])
ax4.axhspan(30, 70, color='#7e57c2', alpha=0.1, lw=0, zorder=0.5)
for lvl, col in [(70, '#787b86'), (50, '#b4b4ba'), (30, '#787b86')]:
    ax4.axhline(lvl, color=col, lw=1.4, ls=(0, (6.4, 6.4)), zorder=1)
rsi_x = np.arange(len(rsi))
rsi_arr = np.array(rsi)
under = ax4.fill_between(rsi_x, rsi_arr, 30, where=rsi_arr < 30, interpolate=True, color='none')
grad = np.linspace(0, 1, 64).reshape(-1, 1)
pink = LinearSegmentedColormap.from_list('pink_fade', ['#fdf4f2', '#efa498'])
im = ax4.imshow(grad, extent=[0, 147.3, 16, 30], origin='upper', aspect='auto', cmap=pink, zorder=1.5)
im.set_clip_path(Path.make_compound_path(*under.get_paths()), transform=ax4.transData)
ax4.set_xlim(-0.04, 147.3)
ax4.set_ylim(10.6, 82.2)
ax4.plot(rsi_ma_x, rsi_ma, color='#fbd85c', lw=1.8, zorder=3)
ax4.plot(rsi_x, rsi, color='#7e57c2', lw=1.6, zorder=3.2)
ax4.set_xticklabels(hour_labels)
ax4.tick_params(axis='x', labelsize=17.5, pad=15)
for t in ax4.get_xticklabels():
    t.set_fontweight('bold')

# ======== window furniture, placed in screen pixels
Z = 20


def rect(x, y, w, h, color, alpha=1.0, z=Z):
    fig.add_artist(Rectangle((x, y), w, h, transform=px, facecolor=color, edgecolor='none', alpha=alpha, zorder=z))


def rbox(x, y, w, h, fc, ec='none', lw=0, r=4, z=Z):
    fig.add_artist(FancyBboxPatch((x + r, y + r), w - 2 * r, h - 2 * r, boxstyle=f'round,pad={r},rounding_size={r}',
                                  transform=px, facecolor=fc, edgecolor=ec, linewidth=lw, zorder=z))


def label(x, y, s, size=17.5, color=INK, ha='left', weight='normal', z=Z + 1):
    fig.text(x, y, s, transform=px, fontsize=size, color=color, ha=ha, va='baseline', fontweight=weight, zorder=z)


def circ(x, y, r, color, z=Z, ec='none', lw=0):
    fig.add_artist(Circle((x, y), r, transform=px, facecolor=color, edgecolor=ec, linewidth=lw, zorder=z))


def poly(pts, color, z=Z + 1):
    fig.add_artist(Polygon(pts, closed=True, transform=px, facecolor=color, edgecolor='none', zorder=z))


def stroke(xs, ys, color, lw, z=Z + 1):
    fig.add_artist(Line2D(xs, ys, transform=px, color=color, lw=lw, zorder=z, solid_capstyle='round'))


for y in (843, 986, 1106, 1168):
    stroke([0, W], [y, y], '#e0e3eb', 2.0, z=15)

# legend row
rect(0, 0, 1340, 50, 'white', alpha=0.55, z=12)
circ(31, 28.5, 18, '#c99b33')
poly([(26, 17), (36, 17), (39, 25), (23, 25)], 'white')
poly([(17, 28), (28, 28), (30, 37), (14, 37)], 'white')
poly([(34, 28), (45, 28), (48, 37), (32, 37)], 'white')
label(59, 38, 'Gold - Cash · 5 · CMC Markets', size=21.8)
circ(529, 28, 18, '#e2f0ec')
circ(529, 28, 8, '#4a9a85', z=Z + 1)
LEG = '#ee4a52'
for x, s in [(563, 'O'), (710, 'H'), (857, 'L'), (997, 'C')]:
    label(x, 38, s, size=18.7)
for x, s in [(586, '3,963.46'), (731, '3,963.92'), (872, '3,961.51'), (1018, '3,962.67'),
             (1143, '\u22120.55'), (1223, '(\u22120.01%)')]:
    label(x, 38, s, size=18.7, color=LEG)

# collapsed indicators button, warning badge
rbox(12.4, 59.3, 64.3, 39, 'white', ec='#e0e3eb', lw=1.5, r=5, z=13)
stroke([26, 33, 40], [75, 82, 75], INK, 1.7)
label(54, 88, '2', size=17.5)
circ(127, 80, 18, '#f9dfe2', z=13)
label(127, 90, '!', size=19, color='#c8484e', ha='center', weight='bold')

# currency
rbox(1822.7, 5, 126.5, 50, 'white', ec='#e6e8ee', lw=1.5, r=9)
label(1831, 39, 'USD', size=17.5)
stroke([1930, 1935, 1940], [28, 33, 28], INK, 1.6)

# high / low tags
rbox(1744, 136, 70, 34, '#e3eefb', r=3)
rbox(1816, 136, 132, 34, '#e3eefb', r=3)
label(1754, 160, 'High')
label(1833, 160, '3,980.68')
rbox(1749, 745, 65, 33, '#e3eefb', r=3)
rbox(1816, 745, 132, 33, '#e3eefb', r=3)
label(1760, 769, 'Low')
label(1833, 769, '3,886.42')

# last price tag
rbox(1816, 252, 132, 62, RED, r=3)
label(1833, 275, '3,962.67', color='white')
label(1833, 303, '02:12', color='#f7c9c4')

# lightning badge
circ(1649, 817, 19, 'white', ec='#7d3ec7', lw=1.8, z=Z)
poly([(1653, 805), (1642, 819), (1648, 819), (1645, 830), (1656, 815), (1650, 815)], '#7d3ec7')
circ(1664, 803, 4.5, '#ee3424', z=Z + 1)

# TradingView mark
fig.add_artist(Polygon([(19.5, 1240), (46, 1240), (46, 1271), (31, 1271), (31, 1252), (19.5, 1252)],
                       closed=True, transform=px, facecolor='#111111', edgecolor='white', linewidth=2, zorder=Z))
fig.add_artist(Polygon([(61, 1240), (81, 1240), (67, 1271), (52, 1271)], closed=True, transform=px,
                       facecolor='#111111', edgecolor='white', linewidth=2, zorder=Z))
circ(53.5, 1246, 6.5, '#111111', ec='white', lw=1)

# settings hexagon
hx = [1887 + 15 * np.cos(a) for a in np.radians(np.arange(0, 361, 60))]
hy = [1327 + 15 * np.sin(a) for a in np.radians(np.arange(0, 361, 60))]
stroke(hx, hy, INK, 1.5)
circ(1887, 1327, 4, 'white', ec=INK, lw=1.3)

fig.savefig('out.png', dpi=100)
